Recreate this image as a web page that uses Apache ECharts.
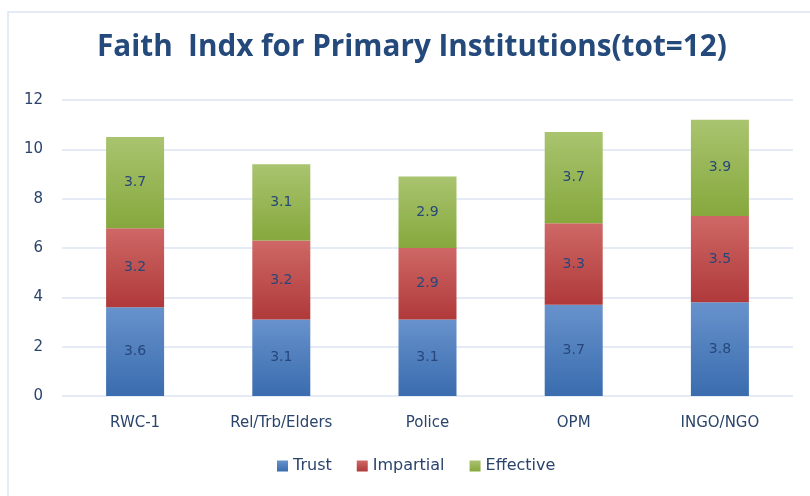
<!DOCTYPE html>
<html><head><meta charset="utf-8">
<script src="https://cdn.jsdelivr.net/npm/echarts@6/dist/echarts.min.js"></script>
<style>html,body{margin:0;padding:0;background:#fff}#c{width:810px;height:496px}</style>
</head><body><div id="c"></div>
<script>
const categories = ['RWC-1', 'Rel/Trb/Elders', 'Police', 'OPM', 'INGO/NGO'];
const trust = [3.6, 3.1, 3.1, 3.7, 3.8];
const impartial = [3.2, 3.2, 2.9, 3.3, 3.5];
const effective = [3.7, 3.1, 2.9, 3.7, 3.9];
const yTicks = [0, 2, 4, 6, 8, 10, 12];

function grad(top, bottom) {
  return new echarts.graphic.LinearGradient(0, 0, 0, 1, [
    {offset: 0, color: top}, {offset: 1, color: bottom}
  ]);
}
const txt = '#2a446c';
const font = '"DejaVu Sans", sans-serif';
const lbl = {show: true, position: 'inside', color: '#27477a', fontSize: 14, fontFamily: font,
  formatter: p => p.value.toFixed(1)};
const chart = echarts.init(document.getElementById('c'));
chart.setOption({
  animation: false,
  graphic: [{type: 'rect', shape: {x: 8, y: 12, width: 830, height: 520},
    style: {fill: 'none', stroke: '#dbe5f3', lineWidth: 1.5}, z: -1}],
  title: {text: 'Faith  Indx for Primary Institutions(tot=12)', left: 92, top: 28,
    textStyle: {fontFamily: '"Open Sans", sans-serif', fontWeight: 'bold', fontSize: 29.7, color: '#24497b'}},
  legend: {bottom: 17, left: 272, itemWidth: 11, itemHeight: 11, itemGap: 25,
    icon: 'rect', textStyle: {color: txt, fontSize: 16, fontFamily: font},
    data: ['Trust', 'Impartial', 'Effective']},
  grid: {left: 62, right: 17, top: 100, bottom: 100},
  xAxis: {type: 'category', data: categories,
    axisLine: {show: false}, axisTick: {show: false},
    axisLabel: {color: txt, fontSize: 15, fontFamily: font, margin: 20}},
  yAxis: {type: 'value', min: yTicks[0], max: yTicks[yTicks.length - 1], interval: 2,
    axisLine: {show: false}, axisTick: {show: false},
    splitLine: {lineStyle: {color: '#dbe5f3', width: 1.5}},
    axisLabel: {color: txt, fontSize: 15, fontFamily: font, margin: 19}},
  series: [
    {name: 'Trust', type: 'bar', stack: 's', data: trust, barWidth: 58,
      itemStyle: {color: grad('#6792cc', '#3a6cae')}, label: lbl},
    {name: 'Impartial', type: 'bar', stack: 's', data: impartial, barWidth: 58,
      itemStyle: {color: grad('#ce6866', '#b0393a')}, label: lbl},
    {name: 'Effective', type: 'bar', stack: 's', data: effective, barWidth: 58,
      itemStyle: {color: grad('#a9c46f', '#86a83d')}, label: lbl}
  ]
});
</script></body></html>
